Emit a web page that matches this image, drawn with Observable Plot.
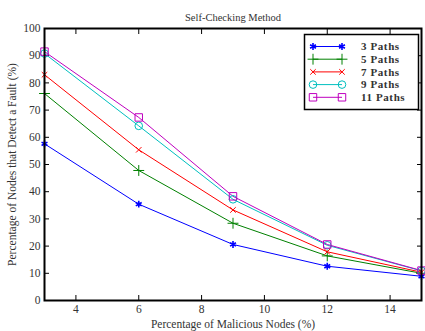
<!DOCTYPE html>
<html><head><meta charset="utf-8">
<script src="https://cdn.jsdelivr.net/npm/d3@7"></script>
<script src="https://cdn.jsdelivr.net/npm/@observablehq/plot@0.6"></script>
<style>
body{margin:0;background:#fff;}
#chart{position:relative;width:425px;height:331px;}
</style>
</head><body><div id="chart"></div>
<script>
const xValues = [3, 6, 9, 12, 15];
const seriesNames = ["3 Paths", "5 Paths", "7 Paths", "9 Paths", "11 Paths"];
const paths3 = [57.6, 35.4, 20.6, 12.6, 8.9];
const paths5 = [76.1, 47.8, 28.4, 16.4, 10.0];
const paths7 = [83.0, 55.4, 33.3, 17.9, 10.4];
const paths9 = [90.8, 64.2, 37.2, 20.3, 10.9];
const paths11 = [91.5, 67.3, 38.3, 20.6, 11.0];
const xTicks = [4, 6, 8, 10, 12, 14];
const yTicks = [0, 10, 20, 30, 40, 50, 60, 70, 80, 90, 100];
const colors = ["#0000ff", "#008000", "#ff0000", "#00bfbf", "#bf00bf"];
const symbols = ["asterisk", "plus", "times", "circle", "square"];
const markerR = [3.2, 3.6, 2.6, 3.8, 4.2];

const allSeries = [paths3, paths5, paths7, paths9, paths11];
const data = [];
allSeries.forEach((vals, i) => vals.forEach((v, j) => data.push({x: xValues[j], y: v, s: seriesNames[i], i})));

const font = "'Liberation Serif', 'DejaVu Serif', serif";
const plot = Plot.plot({
  width: 425, height: 331,
  marginLeft: 44, marginRight: 4, marginTop: 28, marginBottom: 31,
  style: {fontFamily: font, fontSize: "11px", color: "#333", background: "#fff"},
  x: {domain: [3, 15]},
  y: {domain: [0, 100]},
  color: {domain: seriesNames, range: colors},
  symbol: {domain: seriesNames, range: symbols},
  marks: [
    Plot.axisX({ticks: xTicks, tickSize: 0, tickPadding: 4, label: "Percentage of Malicious Nodes (%)", labelAnchor: "center", labelArrow: false, labelOffset: 27, fontSize: 11.5}),
    Plot.axisX({ticks: xTicks, tickSize: -5, text: null, label: null, stroke: "#000"}),
    Plot.axisX({anchor: "top", ticks: xTicks, tickSize: -5, text: null, label: null, stroke: "#000"}),
    Plot.axisY({ticks: yTicks, tickSize: 0, tickPadding: 4, label: "Percentage of Nodes that Detect a Fault (%)", labelAnchor: "center", labelArrow: false, labelOffset: 37, fontSize: 11.5}),
    Plot.axisY({ticks: yTicks, tickSize: -5, text: null, label: null, stroke: "#000"}),
    Plot.axisY({anchor: "right", ticks: yTicks, tickSize: -5, text: null, label: null, stroke: "#000"}),
    Plot.line(data, {x: "x", y: "y", z: "s", stroke: "s", strokeWidth: 1}),
    ...seriesNames.map((name, i) => Plot.dot(data.filter(d => d.i === i), {x: "x", y: "y", symbol: "s", stroke: "s", r: markerR[i], strokeWidth: i === 0 ? 1.6 : 1})),
    Plot.frame({stroke: "#000", strokeWidth: 2}),
    Plot.text(["Self-Checking Method"], {frameAnchor: "top", dy: -15, fontSize: 10.5, fill: "#333"})
  ]
});
document.getElementById("chart").appendChild(plot);

// legend inside the SVG
const svg = d3.select(plot);
const lg = svg.append("g").attr("font-family", font).attr("text-anchor", "start");
lg.append("rect").attr("x", 304.5).attr("y", 34.5).attr("width", 114).attr("height", 75)
  .attr("fill", "#fff").attr("stroke", "#000").attr("stroke-width", 1.5);
const d3Sym = {asterisk: d3.symbolAsterisk, plus: d3.symbolPlus, times: d3.symbolTimes, circle: d3.symbolCircle, square: d3.symbolSquare};
seriesNames.forEach((name, i) => {
  const y = 46.5 + i * 12.7;
  const g = lg.append("g");
  g.append("line").attr("x1", 313).attr("x2", 342).attr("y1", y).attr("y2", y).attr("stroke", colors[i]).attr("stroke-width", 1);
  [313, 342].forEach(cx => {
    const r = markerR[i];
    g.append("path").attr("d", d3.symbol(d3Sym[symbols[i]], Math.PI * r * r)()).attr("transform", `translate(${cx},${y})`)
      .attr("fill", "none").attr("stroke", colors[i]).attr("stroke-width", i === 0 ? 1.6 : 1);
  });
  g.append("text").attr("x", 361).attr("y", y).attr("dy", "0.35em").attr("font-size", 11).attr("font-weight", "bold")
    .attr("fill", "#333").attr("letter-spacing", "0.6px").text(name);
});
</script>
</body></html>
